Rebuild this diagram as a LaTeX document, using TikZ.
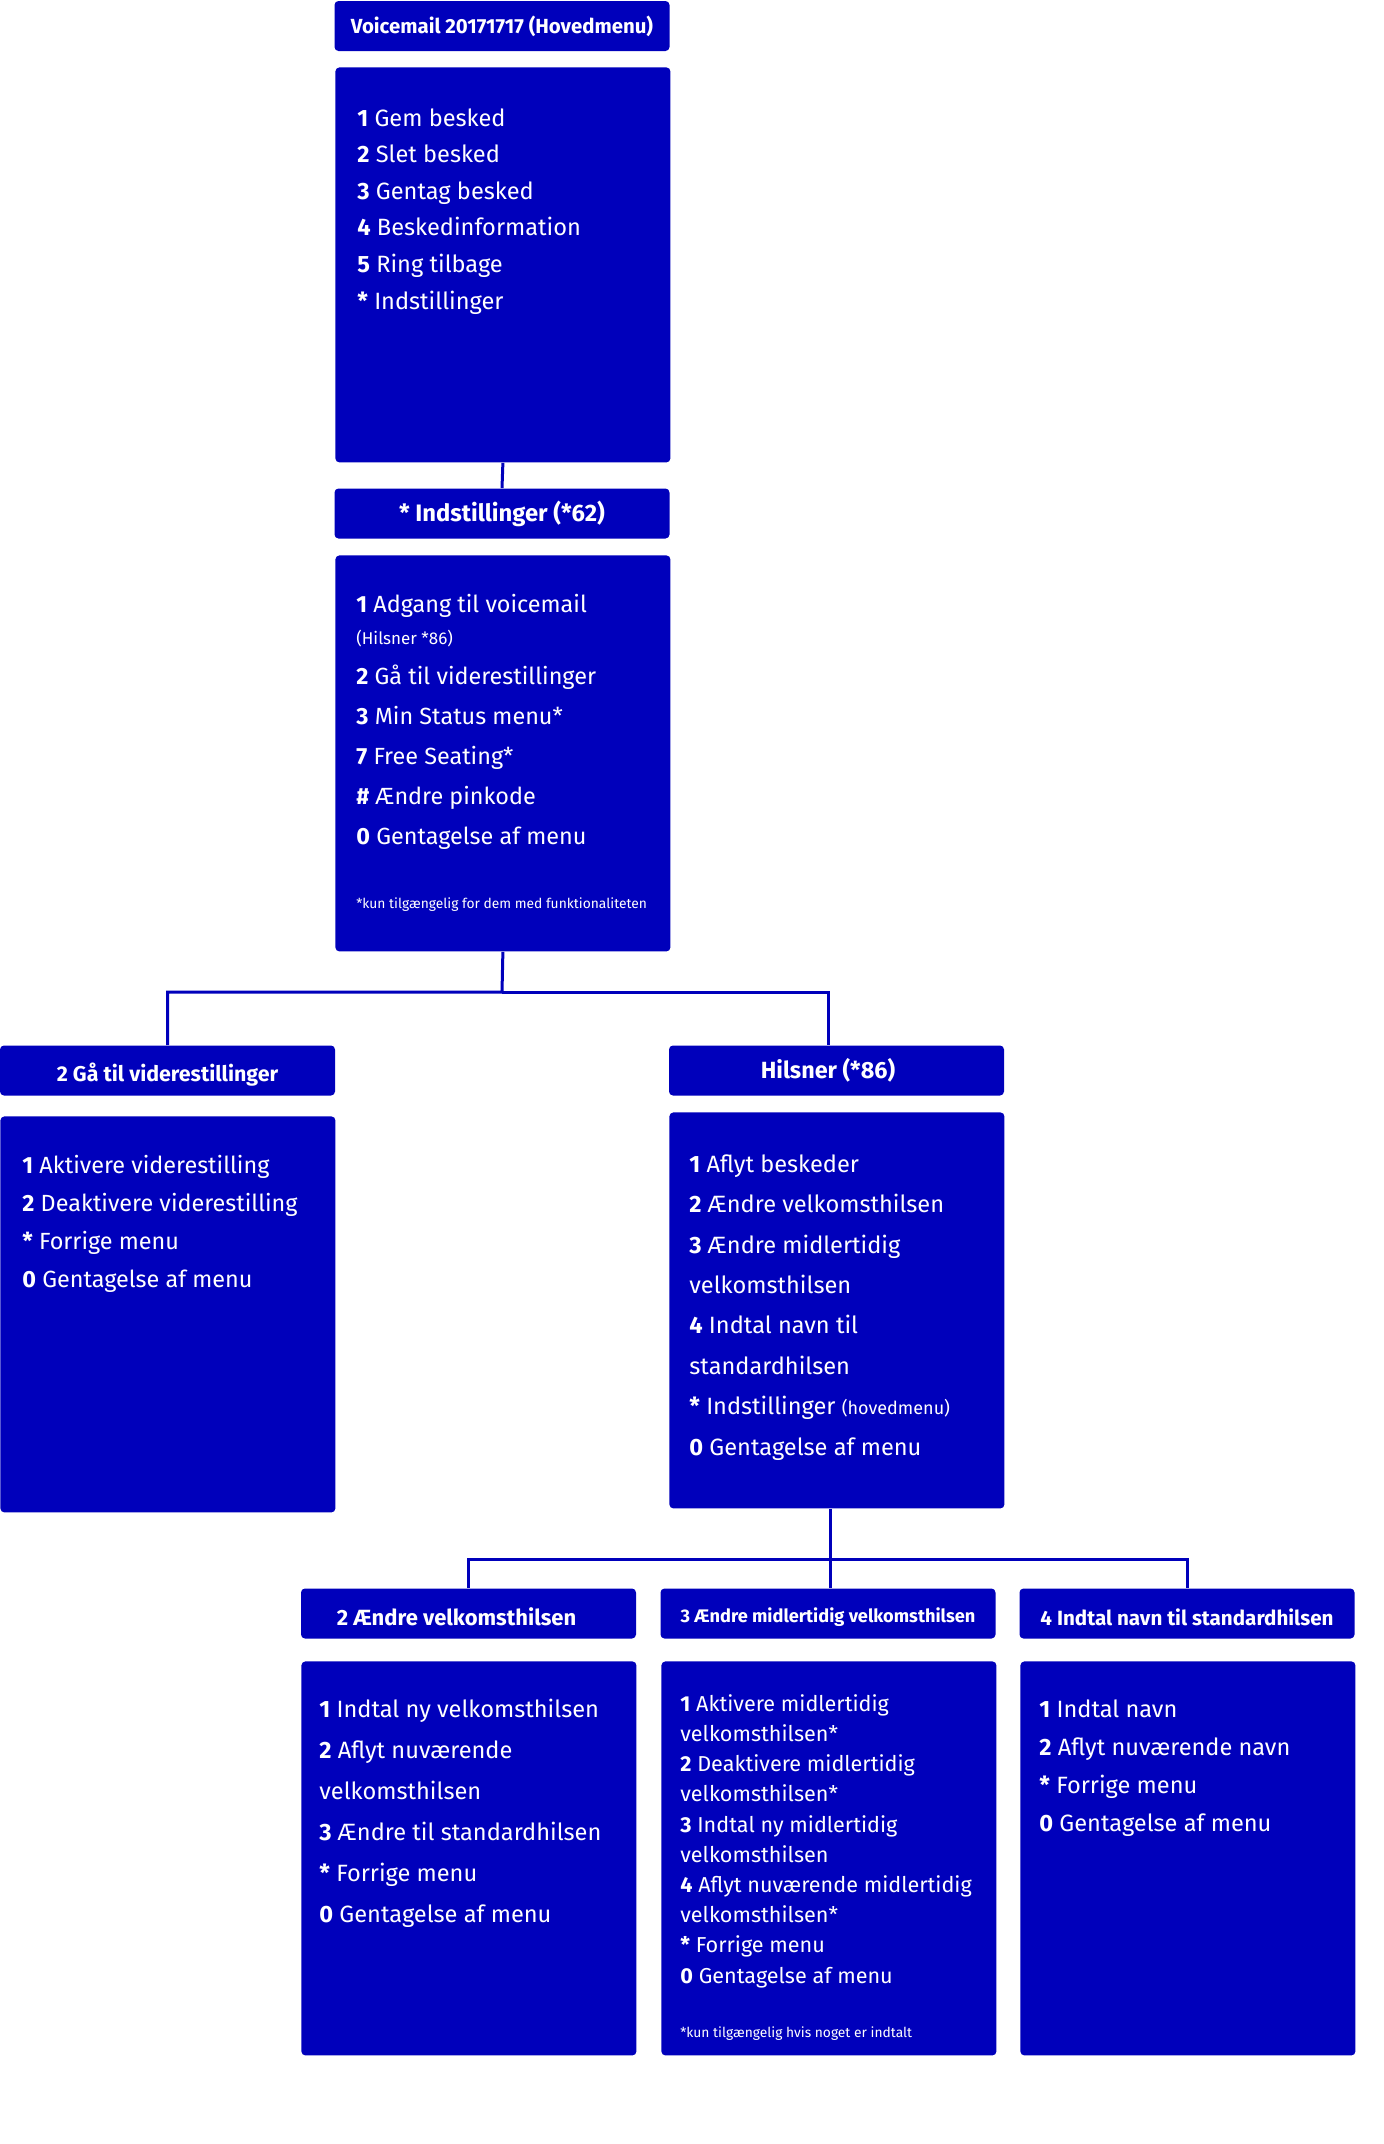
\documentclass[tikz,border=0pt]{standalone}
\usepackage{fontspec}
\setmainfont{Fira Sans}
\usepackage{tikz}
\usetikzlibrary{positioning}

\definecolor{tdcblue}{RGB}{0,0,187}

\tikzset{
  headbox/.style={rectangle,fill=tdcblue,rounded corners=2pt,minimum width=167.5pt,minimum height=25pt,inner sep=0pt,text=white},
  bodybox/.style={rectangle,fill=tdcblue,rounded corners=2pt,minimum width=167.5pt,inner sep=0pt,anchor=north west},
  menutext/.style={anchor=base west,inner sep=0pt,text=white,align=left},
  wire/.style={draw=tdcblue,line width=1.5pt},
}

\begin{document}
\begin{tikzpicture}[x=0.5pt,y=-0.5pt]
  \useasboundingbox (0,0) rectangle (1383,2144);
  % \draw[step=100,gray,very thin] (0,0) grid (1383,2144);
  % menutext nodes sit on the baseline of their last line

  %Hovedmenu
  \node at (502,26) [headbox,font=\bfseries\fontsize{10.2}{12}\selectfont] (hovedhead) {Voicemail 20171717 (Hovedmenu)};
  \node at (335,67) [bodybox,minimum height=197.5pt] (hovedbody) {};
  \node at (357,309) [menutext,font=\fontsize{11.8}{18.3}\selectfont] (hovedtext) {%
    \textbf{1} Gem besked\\ \textbf{2} Slet besked\\ \textbf{3} Gentag besked\\
    \textbf{4} Beskedinformation\\ \textbf{5} Ring tilbage\\ \textbf{*} Indstillinger};

  %Indstillinger
  \node at (502,513.5) [headbox,font=\bfseries\fontsize{11.9}{13}\selectfont] (indhead) {* Indstillinger (*62)};
  \node at (335,555) [bodybox,minimum height=198pt] (indbody) {};
  \node at (356,844) [menutext,font=\fontsize{11.7}{20}\selectfont] (indtext) {%
    \textbf{1} Adgang til voicemail\\[-4pt] {\fontsize{8.5}{10}\selectfont(Hilsner *86)}\\
    \textbf{2} Gå til viderestillinger\\ \textbf{3} Min Status menu*\\
    \textbf{7} Free Seating*\\ \textbf{\#} Ændre pinkode\\ \textbf{0} Gentagelse af menu};
  \node at (356,908) [menutext,font=\fontsize{6.9}{8}\selectfont] (indnote) {*kun tilgængelig for dem med funktionaliteten};

  %Viderestillinger
  \node at (167.5,1070.5) [headbox,text height=13.4pt,text depth=2.4pt,font=\bfseries\fontsize{10.7}{12}\selectfont] (viderehead) {2 Gå til viderestillinger};
  \node at (0,1116) [bodybox,minimum height=198pt] (viderebody) {};
  \node at (22,1287) [menutext,font=\fontsize{11.7}{19}\selectfont] (videretext) {%
    \textbf{1} Aktivere viderestilling\\ \textbf{2} Deaktivere viderestilling\\
    \textbf{*} Forrige menu\\ \textbf{0} Gentagelse af menu};

  %Hilsner
  \node at (836.5,1070.5) [headbox,font=\bfseries\fontsize{11.7}{13}\selectfont] (hilsnerhead) {Hilsner (*86)\hspace*{8.5pt}};
  \node at (669,1112) [bodybox,minimum height=198pt] (hilsnerbody) {};
  \node at (689,1455) [menutext,font=\fontsize{11.8}{20.2}\selectfont] (hilsnertext) {%
    \textbf{1} Aflyt beskeder\\ \textbf{2} Ændre velkomsthilsen\\ \textbf{3} Ændre midlertidig\\
    velkomsthilsen\\ \textbf{4} Indtal navn til\\ standardhilsen\\
    \textbf{*} Indstillinger {\fontsize{9}{10}\selectfont(hovedmenu)}\\ \textbf{0} Gentagelse af menu};

  %Velkomsthilsen
  \node at (468.5,1613.5) [headbox,text height=12pt,text depth=0pt,font=\bfseries\fontsize{11}{12}\selectfont] (velkhead) {2 Ændre velkomsthilsen\hspace*{12pt}};
  \node at (301,1661) [bodybox,minimum height=197pt] (velkbody) {};
  \node at (319,1922) [menutext,font=\fontsize{11.8}{20.5}\selectfont] (velktext) {%
    \textbf{1} Indtal ny velkomsthilsen\\ \textbf{2} Aflyt nuværende\\ velkomsthilsen\\
    \textbf{3} Ændre til standardhilsen\\ \textbf{*} Forrige menu\\ \textbf{0} Gentagelse af menu};

  %Midlertidig
  \node at (828,1613.5) [headbox,text height=10.7pt,text depth=2pt,font=\bfseries\fontsize{9.1}{10}\selectfont] (midlhead) {3 Ændre midlertidig velkomsthilsen};
  \node at (661,1661) [bodybox,minimum height=197pt] (midlbody) {};
  \node at (680,1983) [menutext,font=\fontsize{10.8}{15.1}\selectfont] (midltext) {%
    \textbf{1} Aktivere midlertidig\\ velkomsthilsen*\\ \textbf{2} Deaktivere midlertidig\\ velkomsthilsen*\\
    \textbf{3} Indtal ny midlertidig\\ velkomsthilsen\\ \textbf{4} Aflyt nuværende midlertidig\\ velkomsthilsen*\\
    \textbf{*} Forrige menu\\ \textbf{0} Gentagelse af menu};
  \node at (680,2037) [menutext,font=\fontsize{6.9}{8}\selectfont] (midlnote) {*kun tilgængelig hvis noget er indtalt};

  %Navn
  \node at (1187,1613.5) [headbox,text height=11.5pt,text depth=0pt,font=\bfseries\fontsize{10.3}{11}\selectfont] (navnhead) {4 Indtal navn til standardhilsen};
  \node at (1020,1661) [bodybox,minimum height=197pt] (navnbody) {};
  \node at (1039,1831) [menutext,font=\fontsize{11.8}{19}\selectfont] (navntext) {%
    \textbf{1} Indtal navn\\ \textbf{2} Aflyt nuværende navn\\ \textbf{*} Forrige menu\\ \textbf{0} Gentagelse af menu};

  %Lines
  \coordinate (split1) at (502,992);
  \coordinate (split2) at (830,1559);
  \draw[wire] (hovedbody.south) -- (indhead.north);
  \draw[wire] (indbody.south) -- (split1) -| (viderehead.north);
  \draw[wire] (split1) -| ([xshift=-4pt]hilsnerhead.north);
  \draw[wire] (split2 |- hilsnerbody.south) -- (split2) -| (velkhead.north);
  \draw[wire] (split2) -| (navnhead.north);
  \draw[wire] (split2) -- (split2 |- midlhead.north);
\end{tikzpicture}
\end{document}
